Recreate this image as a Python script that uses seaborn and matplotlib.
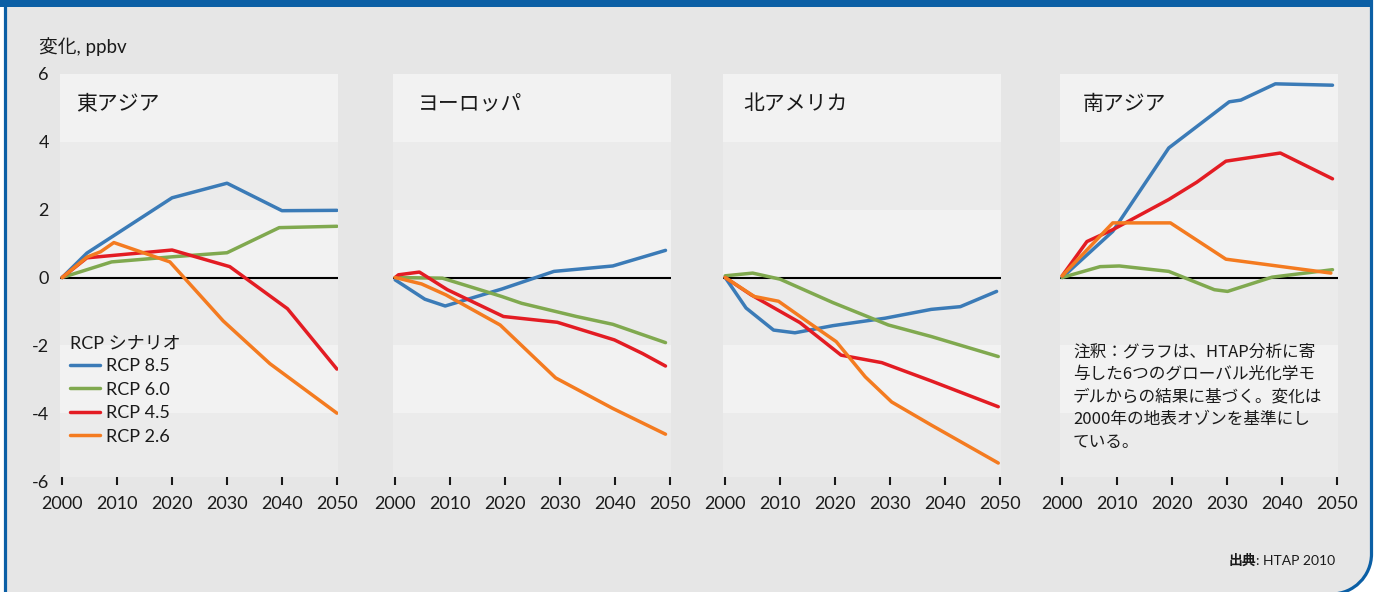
import matplotlib
matplotlib.use("Agg")
import numpy as np
import pandas as pd
import seaborn as sns
import matplotlib.pyplot as plt
from matplotlib.path import Path
from matplotlib.patches import PathPatch, Rectangle
from matplotlib.lines import Line2D
from matplotlib.transforms import Affine2D

# ---------------- data ----------------
SCENARIOS = ["RCP 8.5", "RCP 6.0", "RCP 4.5", "RCP 2.6"]
REGIONS = ["東アジア", "ヨーロッパ", "北アメリカ", "南アジア"]
YEAR_TICKS = [2000, 2010, 2020, 2030, 2040, 2050]
Y_TICKS = [-6, -4, -2, 0, 2, 4, 6]
Y_LABEL = "変化, ppbv"
LEGEND_TITLE = "RCP シナリオ"
SOURCE_BOLD = "出典"
SOURCE_TEXT = ": HTAP 2010"
NOTE_LINES = [
    "注釈：グラフは、HTAP分析に寄",
    "与した6つのグローバル光化学モ",
    "デルからの結果に基づく。変化は",
    "2000年の地表オゾンを基準にし",
    "ている。",
]

# East Asia
EA_85_X = [2000, 2004.5, 2020, 2030, 2040, 2050]
EA_85_Y = [0, 0.72, 2.35, 2.78, 1.97, 1.98]
EA_60_X = [2000, 2009, 2020, 2030, 2039.5, 2050]
EA_60_Y = [0, 0.46, 0.61, 0.73, 1.47, 1.51]
EA_45_X = [2000, 2004.5, 2020, 2030.5, 2041, 2050]
EA_45_Y = [0, 0.58, 0.81, 0.32, -0.92, -2.70]
EA_26_X = [2000, 2004.5, 2007, 2009.4, 2019.6, 2029.3, 2037.8, 2050]
EA_26_Y = [0, 0.60, 0.76, 1.03, 0.46, -1.28, -2.54, -4.00]

# Europe
EU_85_X = [2000, 2005.4, 2009.1, 2019.4, 2028.9, 2039.6, 2049.2]
EU_85_Y = [-0.07, -0.64, -0.84, -0.34, 0.18, 0.34, 0.80]
EU_60_X = [2000, 2008.6, 2019.4, 2023, 2033, 2039.6, 2049.2]
EU_60_Y = [0, -0.02, -0.56, -0.76, -1.15, -1.38, -1.92]
EU_45_X = [2000, 2000.6, 2004.4, 2009.5, 2019.7, 2029.5, 2039.9, 2045, 2049.2]
EU_45_Y = [0, 0.08, 0.16, -0.36, -1.15, -1.32, -1.84, -2.24, -2.61]
EU_26_X = [2000, 2004.8, 2009.2, 2019.1, 2029.2, 2039.6, 2049.2]
EU_26_Y = [0, -0.19, -0.51, -1.40, -2.96, -3.86, -4.62]

# North America
NA_85_X = [2000, 2003.8, 2008.8, 2012.7, 2019.6, 2029.1, 2037.5, 2042.8, 2049.4]
NA_85_Y = [0, -0.90, -1.55, -1.63, -1.42, -1.20, -0.94, -0.86, -0.41]
NA_60_X = [2000, 2005, 2010, 2019.6, 2029.7, 2037.5, 2049.7]
NA_60_Y = [0.05, 0.13, -0.05, -0.74, -1.40, -1.74, -2.33]
NA_45_X = [2000, 2004.7, 2013.6, 2021.1, 2028.5, 2037.5, 2049.7]
NA_45_Y = [0, -0.51, -1.33, -2.29, -2.51, -3.05, -3.81]
NA_26_X = [2000, 2005.3, 2009.7, 2015.4, 2020.2, 2025.5, 2030.3, 2037.5, 2049.7]
NA_26_Y = [0, -0.56, -0.70, -1.35, -1.89, -2.93, -3.67, -4.35, -5.47]

# South Asia
SA_85_X = [2000, 2009.2, 2019.4, 2030.4, 2032.5, 2038.8, 2049.2]
SA_85_Y = [0, 1.36, 3.82, 5.18, 5.23, 5.71, 5.67]
SA_60_X = [2000, 2006.9, 2010.4, 2019.4, 2027.7, 2030.1, 2038.2, 2049.2]
SA_60_Y = [0, 0.32, 0.34, 0.18, -0.36, -0.41, 0.01, 0.23]
SA_45_X = [2000, 2004.5, 2009.2, 2019.4, 2024.5, 2029.8, 2039.7, 2049.2]
SA_45_Y = [0.05, 1.06, 1.41, 2.30, 2.81, 3.43, 3.67, 2.91]
SA_26_X = [2000, 2009.2, 2019.7, 2029.8, 2048.9]
SA_26_Y = [0.05, 1.61, 1.61, 0.54, 0.13]

SERIES = {
    "東アジア": [(EA_85_X, EA_85_Y), (EA_60_X, EA_60_Y), (EA_45_X, EA_45_Y), (EA_26_X, EA_26_Y)],
    "ヨーロッパ": [(EU_85_X, EU_85_Y), (EU_60_X, EU_60_Y), (EU_45_X, EU_45_Y), (EU_26_X, EU_26_Y)],
    "北アメリカ": [(NA_85_X, NA_85_Y), (NA_60_X, NA_60_Y), (NA_45_X, NA_45_Y), (NA_26_X, NA_26_Y)],
    "南アジア": [(SA_85_X, SA_85_Y), (SA_60_X, SA_60_Y), (SA_45_X, SA_45_Y), (SA_26_X, SA_26_Y)],
}

rows = []
for region in REGIONS:
    for scen, (xs, ys) in zip(SCENARIOS, SERIES[region]):
        for i, (x, y) in enumerate(zip(xs, ys)):
            rows.append({"region": region, "scenario": scen, "year": x, "value": y, "order": i})
df = pd.DataFrame(rows)

# ---------------- style ----------------
COLORS = ["#3b7bb7", "#80a94f", "#e31c23", "#f47b20"]
PALETTE = dict(zip(SCENARIOS, COLORS))
BG = "#e6e6e6"
BAND_LIGHT = "#f2f2f2"
BAND_DARK = "#ebebeb"
FRAME_BLUE = "#0b5fa5"
TEXT = "#1a1a1a"
LW = 2.5

sns.set_style("white")
plt.rcParams["font.family"] = ["Lato", "Noto Sans CJK JP"]
plt.rcParams["text.color"] = TEXT
plt.rcParams["xtick.color"] = TEXT
plt.rcParams["ytick.color"] = TEXT

W, H = 1378, 592
fig = plt.figure(figsize=(W / 100, H / 100), dpi=100, facecolor="white")
PX = Affine2D().scale(1 / W, -1 / H).translate(0, 1) + fig.transFigure

# frame: gray panel with blue border, rounded bottom-right corner
xl, xr, yt, yb, R = 5.5, 1371.5, -10, 594.0, 40
k = 0.5523 * R
verts = [(xl, yt), (xr, yt), (xr, yb - R),
         (xr, yb - R + k), (xr - R + k, yb), (xr - R, yb),
         (xl, yb), (xl, yt)]
codes = [Path.MOVETO, Path.LINETO, Path.LINETO,
         Path.CURVE4, Path.CURVE4, Path.CURVE4,
         Path.LINETO, Path.CLOSEPOLY]
frame = PathPatch(Path(verts, codes), facecolor=BG, edgecolor=FRAME_BLUE,
                  lw=2.3, transform=PX, zorder=-10)
fig.add_artist(frame)
fig.add_artist(Rectangle((0, 0), 1373, 7, facecolor=FRAME_BLUE, edgecolor="none",
                         transform=PX, zorder=-9))

# panels
LEFTS = [60, 393, 723, 1060]
PANEL_W = 278
TOP, BOTTOM = 74, 481
TITLE_OFFSETS = [16, 25, 20, 23]
BANDS = [(-5.87, -4, BAND_DARK), (-4, -2, BAND_LIGHT), (-2, 0, BAND_DARK),
         (0, 2, BAND_LIGHT), (2, 4, BAND_DARK), (4, 6, BAND_LIGHT)]

axes = []
for idx, region in enumerate(REGIONS):
    ax = fig.add_axes([LEFTS[idx] / W, 1 - BOTTOM / H, PANEL_W / W, (BOTTOM - TOP) / H])
    ax.set_facecolor("none")
    for lo, hi, c in BANDS:
        ax.axhspan(lo, hi, color=c, lw=0, zorder=0)
    ax.axhline(0, color="black", lw=1.5, zorder=1)
    sub = df[df["region"] == region].sort_values(["scenario", "order"])
    sns.lineplot(data=sub, x="year", y="value", hue="scenario", hue_order=SCENARIOS,
                 palette=PALETTE, units="scenario", estimator=None, sort=False,
                 lw=LW, legend=False, ax=ax, zorder=3)
    ax.set_xlim(1999.6, 2050.2)
    ax.set_ylim(-6, 6)
    ax.set_xlabel("")
    ax.set_ylabel("")
    for s in ax.spines.values():
        s.set_visible(False)
    ax.set_xticks(YEAR_TICKS)
    ax.set_xticklabels([str(t) for t in YEAR_TICKS])
    ax.tick_params(axis="x", bottom=True, direction="inout", length=5.8, width=1.5,
                   pad=8.0, labelsize=13, colors=TEXT)
    ax.set_yticks(Y_TICKS)
    if idx == 0:
        ax.set_yticklabels([str(t) for t in Y_TICKS])
        ax.tick_params(axis="y", left=False, length=0, pad=8, labelsize=13)
    else:
        ax.set_yticklabels([])
        ax.tick_params(axis="y", left=False, length=0)
    ax.grid(False)
    ax.text(TITLE_OFFSETS[idx] / PANEL_W, 0.926, region, transform=ax.transAxes,
            family=["Noto Sans CJK JP"], size=15, va="center", ha="left", color=TEXT)
    axes.append(ax)

# y label
fig.text(39, 47, Y_LABEL, transform=PX, size=13.5, ha="left", va="center")

# legend in first panel
handles = [Line2D([], [], color=c, lw=LW) for c in COLORS]
leg = axes[0].legend(handles, SCENARIOS, title=LEGEND_TITLE, loc="upper left",
                     bbox_to_anchor=(10 / PANEL_W, (BOTTOM - 335) / (BOTTOM - TOP)),
                     frameon=False, fontsize=13, title_fontsize=13,
                     handlelength=1.66, handletextpad=0.35, labelspacing=0.42,
                     borderpad=0, borderaxespad=0)
leg._legend_box.align = "left"
leg._legend_box.sep = 5

# note in last panel
for i, line in enumerate(NOTE_LINES):
    fig.text(1073, 356 + 22.8 * i, line, transform=PX, family=["Noto Sans CJK JP"],
             size=12, ha="left", va="baseline", color=TEXT)

# source
t1 = fig.text(1335, 561, SOURCE_TEXT, transform=PX, size=10, ha="right", va="center")
axes[3].annotate(SOURCE_BOLD, xy=(0, 0.5), xycoords=t1, ha="right", va="center",
                 size=10, fontweight="bold", family=["Noto Sans CJK JP"],
                 annotation_clip=False)

fig.savefig("out.png", dpi=100, facecolor="white")
